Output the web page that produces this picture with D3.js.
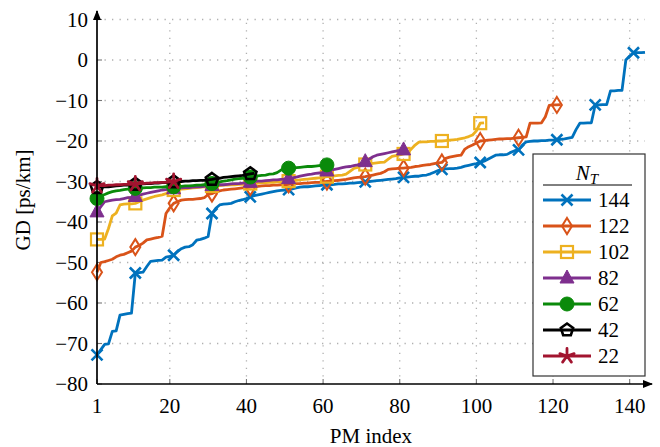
<!DOCTYPE html>
<html>
<head>
<meta charset="utf-8">
<script src="https://cdn.jsdelivr.net/npm/d3@7"></script>
<style>
  body { margin: 0; background: #fff; }
  svg { display: block; }
  text { font-family: "Liberation Serif", "Times New Roman", Times, "DejaVu Serif", serif; }
</style>
</head>
<body>
<svg id="vis-svg" width="660" height="447"></svg>
<script>
var width  = 660;
var height = 447;

// x range of the plot (PM index) and y range (GD)
const xTicks = [1, 20, 40, 60, 80, 100, 120, 140];
const yTicks = [-80, -70, -60, -50, -40, -30, -20, -10, 0, 10];
const seriesNames = ["144", "122", "102", "82", "62", "42", "22"];

// GD values [ps/km], sorted, one per PM index
const gd144 = [
  -72.8, -71.5, -70.2, -70.1, -67.0, -66.9, -63.0, -62.8, -62.6, -62.5,
  -52.6, -52.5, -52.4, -51.0, -49.7, -49.6, -49.5, -49.4, -48.7, -48.5,
  -48.2, -47.3, -46.6, -46.2, -46.1, -45.6, -44.5, -44.3, -44.0, -43.6,
  -37.9, -36.6, -35.8, -35.6, -35.5, -35.4, -35.0, -34.7, -34.5, -34.2,
  -33.8, -33.5, -33.3, -33.1, -32.9, -32.7, -32.5, -32.3, -32.2, -32.1,
  -32.0, -31.8, -31.6, -31.4, -31.3, -31.3, -31.2, -31.1, -31.0, -30.9,
  -30.8, -30.8, -30.7, -30.6, -30.6, -30.5, -30.4, -30.4, -30.3, -30.2,
  -30.1, -30.0, -29.9, -29.8, -29.7, -29.6, -29.5, -29.4, -29.3, -29.1,
  -29.0, -28.9, -28.8, -28.7, -28.7, -28.5, -28.4, -28.1, -27.7, -27.3,
  -27.0, -26.9, -26.8, -26.8, -26.7, -26.5, -26.2, -26.0, -25.8, -25.6,
  -25.3, -25.0, -24.5, -24.0, -23.5, -23.4, -23.4, -23.3, -22.8, -22.4,
  -22.2, -21.0, -20.2, -20.1, -20.0, -20.0, -19.9, -19.9, -19.8, -19.8,
  -19.7, -19.6, -19.5, -19.3, -19.1, -17.2, -15.6, -15.6, -15.5, -15.5,
  -11.1, -11.1, -11.0, -11.0, -7.6, -7.6, -7.5, -7.5, 0.0, 1.0,
  1.8, 1.8, 1.8, 1.9
];
const gd122 = [
  -52.4, -50.0, -49.8, -49.5, -49.2, -48.6, -48.2, -48.0, -47.6, -47.2,
  -46.2, -45.8, -45.2, -44.4, -44.2, -44.0, -43.8, -43.5, -37.9, -36.5,
  -35.4, -35.0, -34.6, -34.5, -34.4, -34.4, -34.3, -34.2, -34.0, -33.2,
  -33.0, -32.6, -32.3, -32.1, -32.0, -31.9, -31.8, -31.7, -31.6, -31.5,
  -31.4, -31.3, -31.2, -31.1, -31.0, -31.0, -30.9, -30.9, -30.8, -30.8,
  -30.7, -30.6, -30.5, -30.5, -30.4, -30.4, -30.3, -30.2, -30.2, -30.1,
  -30.0, -29.9, -29.8, -29.7, -29.6, -29.5, -29.3, -29.1, -29.0, -28.9,
  -28.8, -28.6, -28.4, -28.2, -28.0, -27.6, -27.0, -26.9, -26.8, -26.7,
  -26.7, -26.6, -26.5, -26.3, -26.2, -26.0, -25.9, -25.8, -25.6, -25.4,
  -25.3, -24.3, -24.0, -23.8, -23.6, -23.5, -22.0, -21.4, -21.0, -20.5,
  -20.0, -19.9, -19.8, -19.7, -19.6, -19.5, -19.5, -19.4, -19.4, -19.3,
  -19.2, -19.1, -19.0, -15.6, -15.6, -15.6, -15.5, -14.0, -11.2, -11.1,
  -11.1, -11.0
];
const gd102 = [
  -44.3, -44.3, -44.2, -41.6, -38.5, -37.8, -35.8, -35.6, -35.5, -35.5,
  -35.4, -35.0, -34.6, -34.3, -34.0, -33.7, -33.5, -33.3, -33.0, -32.5,
  -32.1, -32.0, -31.9, -31.8, -31.7, -31.6, -31.5, -31.4, -31.3, -31.2,
  -31.1, -31.0, -31.0, -30.9, -30.9, -30.8, -30.8, -30.7, -30.7, -30.6,
  -30.5, -30.4, -30.4, -30.3, -30.3, -30.2, -30.2, -30.1, -30.1, -30.0,
  -29.9, -29.8, -29.7, -29.6, -29.5, -29.4, -29.3, -29.2, -29.1, -29.0,
  -28.8, -28.7, -28.6, -28.5, -28.4, -28.2, -27.5, -26.8, -26.5, -25.9,
  -25.8, -25.6, -25.5, -25.4, -25.3, -25.2, -24.5, -23.8, -23.6, -23.4,
  -23.2, -23.0, -22.0, -21.0, -20.3, -20.2, -20.2, -20.1, -20.1, -20.0,
  -20.0, -19.9, -19.8, -19.7, -19.6, -19.4, -19.2, -18.9, -18.5, -17.5,
  -15.6, -15.5
];
const gd82 = [
  -37.5, -36.2, -35.0, -34.8, -34.6, -34.5, -34.4, -34.2, -34.0, -33.9,
  -33.7, -33.4, -33.1, -32.9, -32.7, -32.5, -32.3, -32.1, -32.0, -31.9,
  -31.8, -31.7, -31.6, -31.5, -31.5, -31.4, -31.3, -31.3, -31.2, -31.1,
  -31.0, -30.9, -30.8, -30.8, -30.7, -30.6, -30.5, -30.5, -30.4, -30.3,
  -30.2, -30.0, -29.9, -29.9, -29.8, -29.7, -29.6, -29.6, -29.5, -29.4,
  -29.3, -29.1, -28.9, -28.7, -28.5, -28.3, -28.2, -28.0, -27.9, -27.8,
  -27.4, -27.2, -27.0, -26.8, -26.6, -26.4, -26.3, -26.1, -25.9, -25.6,
  -25.1, -24.5, -23.9, -23.5, -23.3, -23.1, -22.9, -22.7, -22.5, -22.3,
  -22.2, -22.1
];
const gd62 = [
  -34.2, -33.5, -33.2, -32.8, -32.5, -32.3, -32.2, -32.0, -31.9, -31.8,
  -31.7, -31.6, -31.6, -31.5, -31.5, -31.4, -31.4, -31.4, -31.3, -31.3,
  -31.3, -31.2, -31.2, -31.1, -31.1, -31.0, -30.9, -30.9, -30.8, -30.7,
  -30.5, -30.3, -30.1, -29.9, -29.8, -29.6, -29.4, -29.3, -29.2, -29.0,
  -28.9, -28.7, -28.6, -28.5, -28.4, -28.2, -28.1, -27.8, -27.2, -26.8,
  -26.7, -26.6, -26.6, -26.5, -26.4, -26.3, -26.3, -26.2, -26.1, -26.0,
  -25.9, -25.8
];
const gd42 = [
  -31.5, -31.4, -31.3, -31.3, -31.2, -31.1, -31.0, -30.9, -30.9, -30.8,
  -30.7, -30.6, -30.6, -30.5, -30.5, -30.4, -30.4, -30.3, -30.3, -30.2,
  -30.1, -30.0, -30.0, -29.9, -29.9, -29.8, -29.8, -29.7, -29.7, -29.6,
  -29.5, -29.3, -29.2, -29.0, -28.9, -28.8, -28.7, -28.6, -28.5, -28.3,
  -28.1, -28.0
];
const gd22 = [
  -31.1, -31.0, -31.0, -30.9, -30.9, -30.8, -30.8, -30.7, -30.7, -30.7,
  -30.6, -30.5, -30.5, -30.4, -30.4, -30.3, -30.3, -30.2, -30.2, -30.1,
  -30.0, -29.9
];

const colors  = ["#0072BD", "#D95319", "#EDB120", "#7E2F8E", "#0a8a0a", "#000000", "#A2142F"];
const markers = ["x", "diamond", "square", "triangle", "circle", "pentagon", "star"];
const allSeries = [gd144, gd122, gd102, gd82, gd62, gd42, gd22];

const svg = d3.select("#vis-svg");
const serif = "Liberation Serif, Times New Roman, DejaVu Serif, serif";

const x = d3.scaleLinear().domain([1, 144]).range([97, 645]);
const y = d3.scaleLinear().domain([-80, 10]).range([384, 19.5]);

// grid
const grid = svg.append("g");
grid.selectAll("line.gx").data(xTicks.filter(d => d !== 1)).enter()
  .append("line")
  .attr("x1", d => x(d)).attr("x2", d => x(d))
  .attr("y1", y(-80)).attr("y2", y(10))
  .attr("stroke", "#b0b0b0").attr("stroke-width", 1.3)
  .attr("stroke-dasharray", "1.3,6.2");
grid.selectAll("line.gy").data(yTicks.filter(d => d !== -80)).enter()
  .append("line")
  .attr("x1", x(1)).attr("x2", x(144))
  .attr("y1", d => y(d)).attr("y2", d => y(d))
  .attr("stroke", "#b0b0b0").attr("stroke-width", 1.3)
  .attr("stroke-dasharray", "1.3,6.2");

// ticks (inside)
const ticks = svg.append("g");
ticks.selectAll("line.tx").data(xTicks).enter()
  .append("line")
  .attr("x1", d => x(d)).attr("x2", d => x(d))
  .attr("y1", y(-80)).attr("y2", y(-80) - 5)
  .attr("stroke", "#777").attr("stroke-width", 1.1);
ticks.selectAll("line.ty").data(yTicks).enter()
  .append("line")
  .attr("x1", x(1)).attr("x2", x(1) + 5)
  .attr("y1", d => y(d)).attr("y2", d => y(d))
  .attr("stroke", "#777").attr("stroke-width", 1.1);

// tick labels
svg.append("g").selectAll("text").data(xTicks).enter()
  .append("text")
  .attr("x", d => x(d)).attr("y", 413)
  .attr("text-anchor", "middle")
  .attr("font-family", serif).attr("font-size", 21)
  .text(d => d);
svg.append("g").selectAll("text").data(yTicks).enter()
  .append("text")
  .attr("x", 88).attr("y", d => y(d) + 7)
  .attr("text-anchor", "end")
  .attr("font-family", serif).attr("font-size", 21)
  .text(d => d < 0 ? "\u2212" + Math.abs(d) : d);

// axis labels
svg.append("text")
  .attr("x", 371).attr("y", 443)
  .attr("text-anchor", "middle").attr("font-family", serif).attr("font-size", 21)
  .text("PM index");
svg.append("text")
  .attr("transform", "translate(30,200) rotate(-90)")
  .attr("text-anchor", "middle").attr("font-family", serif).attr("font-size", 21)
  .text("GD [ps/km]");

// marker drawing
function drawMarker(g, type, color) {
  if (type === "x") {
    g.append("path").attr("d", "M-5.5,-5.5L5.5,5.5M-5.5,5.5L5.5,-5.5")
      .attr("stroke", color).attr("stroke-width", 2.6).attr("fill", "none");
  } else if (type === "diamond") {
    g.append("path").attr("d", "M0,-8L5,0L0,8L-5,0Z")
      .attr("stroke", color).attr("stroke-width", 2).attr("fill", "none");
  } else if (type === "square") {
    g.append("rect").attr("x", -6).attr("y", -6).attr("width", 12).attr("height", 12)
      .attr("stroke", color).attr("stroke-width", 2.2).attr("fill", "none");
  } else if (type === "triangle") {
    g.append("path").attr("d", "M0,-8L7,5L-7,5Z")
      .attr("stroke", color).attr("stroke-width", 1).attr("fill", color);
  } else if (type === "circle") {
    g.append("circle").attr("r", 7)
      .attr("stroke", color).attr("stroke-width", 1).attr("fill", color);
  } else if (type === "pentagon") {
    const pts = d3.range(5).map(i => {
      const a = -Math.PI / 2 + i * 2 * Math.PI / 5;
      return [6.5 * Math.cos(a), 6.5 * Math.sin(a)];
    });
    g.append("path").attr("d", "M" + pts.join("L") + "Z")
      .attr("stroke", color).attr("stroke-width", 2.6).attr("fill", "none");
  } else if (type === "star") {
    let d = "";
    for (let i = 0; i < 5; i++) {
      const a = -Math.PI / 2 + i * 2 * Math.PI / 5;
      d += "M0,0L" + (7.5 * Math.cos(a)) + "," + (7.5 * Math.sin(a));
    }
    g.append("path").attr("d", d)
      .attr("stroke", color).attr("stroke-width", 2.8).attr("fill", "none")
      .attr("stroke-linecap", "round");
  }
}

const line = d3.line()
  .x((d, i) => x(i + 1))
  .y(d => y(d));

const plot = svg.append("g");
allSeries.forEach((data, k) => {
  plot.append("path")
    .datum(data)
    .attr("d", line)
    .attr("fill", "none")
    .attr("stroke", colors[k])
    .attr("stroke-width", 2.8)
    .attr("stroke-linejoin", "round");
  data.forEach((v, i) => {
    if (i % 10 === 0) {
      const g = plot.append("g").attr("transform", `translate(${x(i + 1)},${y(v)})`);
      drawMarker(g, markers[k], colors[k]);
    }
  });
});

// axis lines with arrows
svg.append("defs").append("marker")
  .attr("id", "arrow").attr("viewBox", "0 0 10 10")
  .attr("refX", 9).attr("refY", 5)
  .attr("markerWidth", 10).attr("markerHeight", 10)
  .attr("markerUnits", "userSpaceOnUse")
  .attr("orient", "auto")
  .append("path").attr("d", "M0,1L10,5L0,9Z").attr("fill", "#000");
svg.append("line")
  .attr("x1", x(1)).attr("x2", x(1)).attr("y1", y(-80)).attr("y2", 11)
  .attr("stroke", "#000").attr("stroke-width", 1.7).attr("marker-end", "url(#arrow)");
svg.append("line")
  .attr("x1", x(1)).attr("x2", 652).attr("y1", y(-80)).attr("y2", y(-80))
  .attr("stroke", "#000").attr("stroke-width", 1.7).attr("marker-end", "url(#arrow)");

// legend
const legend = svg.append("g");
legend.append("rect")
  .attr("x", 533).attr("y", 154).attr("width", 112).attr("height", 222)
  .attr("fill", "#fff").attr("stroke", "#333").attr("stroke-width", 1.2);
const title = legend.append("text")
  .attr("x", 587).attr("y", 180).attr("text-anchor", "middle")
  .attr("font-family", serif).attr("font-size", 21);
title.append("tspan").attr("font-style", "italic").text("N");
title.append("tspan").attr("font-style", "italic").attr("font-size", 15).attr("dy", 4).text("T");
legend.append("line")
  .attr("x1", 543).attr("x2", 632).attr("y1", 185).attr("y2", 185)
  .attr("stroke", "#000").attr("stroke-width", 1);
seriesNames.forEach((name, k) => {
  const ly = 200 + k * 26;
  legend.append("line")
    .attr("x1", 543).attr("x2", 591).attr("y1", ly).attr("y2", ly)
    .attr("stroke", colors[k]).attr("stroke-width", 2.8);
  drawMarker(legend.append("g").attr("transform", `translate(567,${ly})`), markers[k], colors[k]);
  legend.append("text")
    .attr("x", 598).attr("y", ly + 7)
    .attr("font-family", serif).attr("font-size", 21)
    .text(name);
});
</script>
</body>
</html>
